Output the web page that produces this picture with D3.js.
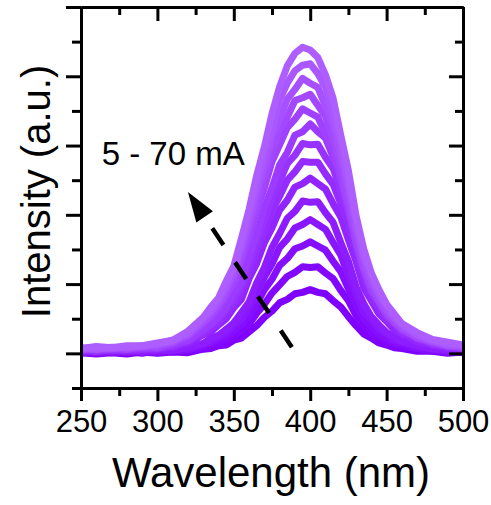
<!DOCTYPE html>
<html>
<head>
<meta charset="utf-8">
<script src="https://cdn.jsdelivr.net/npm/d3@7/dist/d3.min.js"></script>
<style>
  html, body { margin: 0; padding: 0; background: #fff; }
  svg { display: block; }
  text { font-family: "Liberation Sans", Arial, Helvetica, sans-serif; fill: #000; }
</style>
</head>
<body>
<svg id="chart" width="491" height="505"></svg>
<script>
// ---------------- data ----------------
const wavelengths = [250,260,270,280,290,300,310,320,330,335,340,345,350,355,360,365,370,375,380,385,390,395,400,405,410,415,420,425,430,435,440,445,450,455,460,470,480,490,500];
const currents = [5,10,15,20,25,30,35,40,45,50,55,60,65,70];

const spec05mA = [0.01,-0.01,0.01,-0.01,0.02,0.00,0.02,0.01,0.06,0.07,0.11,0.12,0.19,0.22,0.31,0.40,0.52,0.61,0.73,0.78,0.86,0.88,0.92,0.88,0.86,0.76,0.67,0.53,0.40,0.28,0.22,0.15,0.12,0.08,0.07,0.03,0.03,0.00,0.02];
const spec10mA = [0.00,0.03,0.01,0.03,0.00,0.04,0.02,0.05,0.08,0.12,0.15,0.20,0.25,0.34,0.42,0.58,0.71,0.87,0.99,1.11,1.17,1.25,1.24,1.25,1.16,1.08,0.91,0.76,0.55,0.41,0.30,0.24,0.16,0.14,0.09,0.07,0.03,0.04,0.01];
const spec15mA = [0.02,0.00,0.03,0.01,0.03,0.01,0.04,0.05,0.11,0.14,0.20,0.24,0.33,0.41,0.55,0.71,0.92,1.07,1.27,1.37,1.51,1.55,1.61,1.55,1.49,1.33,1.18,0.93,0.71,0.50,0.39,0.28,0.22,0.15,0.13,0.07,0.05,0.02,0.03];
const spec20mA = [0.03,0.01,0.04,0.02,0.04,0.03,0.06,0.06,0.14,0.17,0.24,0.29,0.40,0.49,0.66,0.86,1.10,1.29,1.53,1.65,1.81,1.86,1.93,1.86,1.79,1.60,1.42,1.12,0.86,0.60,0.48,0.34,0.28,0.19,0.17,0.09,0.07,0.04,0.05];
const spec25mA = [0.01,0.04,0.02,0.04,0.02,0.05,0.04,0.09,0.14,0.22,0.26,0.35,0.44,0.59,0.74,1.02,1.24,1.53,1.73,1.95,2.05,2.20,2.18,2.19,2.03,1.89,1.60,1.33,0.96,0.72,0.53,0.41,0.30,0.24,0.17,0.12,0.06,0.06,0.03];
const spec30mA = [0.04,0.02,0.05,0.03,0.06,0.05,0.10,0.14,0.27,0.31,0.41,0.50,0.66,0.78,1.08,1.30,1.60,1.81,2.07,2.21,2.40,2.45,2.53,2.45,2.37,2.16,1.97,1.64,1.33,0.95,0.76,0.57,0.46,0.34,0.28,0.16,0.12,0.07,0.07];
const spec35mA = [0.05,0.03,0.05,0.04,0.06,0.08,0.09,0.17,0.28,0.37,0.43,0.58,0.71,0.90,1.17,1.48,1.75,2.06,2.27,2.50,2.62,2.77,2.76,2.76,2.59,2.44,2.16,1.86,1.45,1.09,0.82,0.66,0.49,0.40,0.29,0.20,0.12,0.09,0.06];
const spec40mA = [0.04,0.06,0.05,0.07,0.06,0.09,0.11,0.19,0.31,0.41,0.48,0.64,0.78,0.99,1.28,1.62,1.91,2.25,2.48,2.74,2.86,3.03,3.01,3.02,2.83,2.67,2.35,2.04,1.58,1.20,0.89,0.73,0.54,0.44,0.32,0.23,0.13,0.11,0.07];
const spec45mA = [0.06,0.04,0.06,0.05,0.08,0.07,0.13,0.18,0.35,0.42,0.54,0.66,0.87,1.03,1.42,1.71,2.10,2.39,2.72,2.90,3.15,3.20,3.31,3.20,3.11,2.83,2.59,2.16,1.74,1.26,0.99,0.76,0.60,0.45,0.37,0.22,0.16,0.10,0.09];
const spec50mA = [0.05,0.07,0.06,0.08,0.08,0.11,0.14,0.25,0.41,0.53,0.64,0.83,1.01,1.33,1.66,2.06,2.39,2.77,3.01,3.26,3.38,3.53,3.47,3.41,3.17,2.94,2.52,2.11,1.59,1.21,0.92,0.74,0.56,0.45,0.34,0.23,0.15,0.12,0.08];
const spec55mA = [0.07,0.05,0.08,0.06,0.10,0.09,0.16,0.24,0.45,0.53,0.69,0.85,1.09,1.38,1.79,2.15,2.57,2.90,3.24,3.41,3.65,3.69,3.74,3.58,3.42,3.08,2.72,2.20,1.72,1.25,1.00,0.76,0.61,0.45,0.37,0.22,0.17,0.10,0.10];
const spec60mA = [0.06,0.09,0.07,0.10,0.09,0.14,0.16,0.29,0.46,0.60,0.72,0.93,1.14,1.50,1.87,2.32,2.69,3.12,3.38,3.67,3.81,3.97,3.90,3.84,3.57,3.31,2.84,2.38,1.79,1.36,1.04,0.83,0.63,0.51,0.38,0.27,0.17,0.14,0.10];
const spec65mA = [0.08,0.06,0.09,0.08,0.11,0.12,0.19,0.28,0.51,0.60,0.78,0.95,1.22,1.54,2.00,2.40,2.87,3.23,3.66,3.90,4.08,4.16,4.18,4.04,3.84,3.44,3.04,2.46,1.92,1.40,1.12,0.85,0.69,0.51,0.42,0.26,0.19,0.12,0.12];
const spec70mA = [0.07,0.10,0.08,0.11,0.11,0.15,0.19,0.32,0.52,0.67,0.80,1.04,1.26,1.66,2.08,2.57,2.98,3.46,3.85,4.15,4.33,4.42,4.38,4.27,4.02,3.68,3.15,2.64,1.99,1.51,1.16,0.92,0.71,0.57,0.43,0.30,0.20,0.16,0.12];

const spectra = [spec05mA,spec10mA,spec15mA,spec20mA,spec25mA,spec30mA,spec35mA,spec40mA,spec45mA,spec50mA,spec55mA,spec60mA,spec65mA,spec70mA];

const xMajorTicks = [250,300,350,400,450,500];
const xMinorTicks = [275,325,375,425,475];
const yMajorTicks = [0,1,2,3,4,5];
const yMinorTicks = [-0.5,0.5,1.5,2.5,3.5,4.5];

const xLabel = "Wavelength (nm)";
const yLabel = "Intensity (a.u.)";
const annotationText = "5 - 70 mA";
const arrowTail = [388, 0.09];
const arrowHead = [320, 2.33];
const annotationPos = [263.5, 2.72];

(function () {
const svg = d3.select("#chart");
const mLeft = 81, mRight = 463, mTop = 7, mBottom = 388;

const x = d3.scaleLinear().domain([250, 500]).range([mLeft, mRight]);
const y = d3.scaleLinear().domain([-0.5, 5]).range([mBottom, mTop]);

const color = i => d3.interpolateRgb("#7f00ff", "#ae5eff")(i / (spectra.length - 1));

const line = d3.line()
  .x((d, i) => x(wavelengths[i]))
  .y(d => y(d));

const gCurves = svg.append("g");
spectra.forEach((s, i) => {
  gCurves.append("path")
    .datum(s)
    .attr("d", line)
    .attr("fill", "none")
    .attr("stroke", color(i))
    .attr("stroke-width", 7)
    .attr("stroke-linejoin", "round")
    .attr("stroke-linecap", "butt");
});

const AX_W = 3;
function styleAxis(g) {
  g.select(".domain").attr("stroke", "#000").attr("stroke-width", AX_W);
  g.selectAll(".tick line").attr("stroke", "#000").attr("stroke-width", AX_W);
}

const gb = svg.append("g").attr("transform", `translate(0,${mBottom})`)
  .call(d3.axisBottom(x).tickValues(xMajorTicks).tickSize(13).tickSizeOuter(0).tickPadding(9).tickFormat(d3.format("d")));
styleAxis(gb);
gb.selectAll(".tick text").attr("font-size", 31).attr("font-family", "Liberation Sans, Arial, sans-serif").attr("fill", "#000");
const gbm = svg.append("g").attr("transform", `translate(0,${mBottom})`)
  .call(d3.axisBottom(x).tickValues(xMinorTicks).tickSize(8).tickSizeOuter(0).tickFormat(""));
styleAxis(gbm);

const gt = svg.append("g").attr("transform", `translate(0,${mTop})`)
  .call(d3.axisTop(x).tickValues(xMajorTicks).tickSize(-14).tickSizeOuter(0).tickFormat(""));
styleAxis(gt);
const gtm = svg.append("g").attr("transform", `translate(0,${mTop})`)
  .call(d3.axisTop(x).tickValues(xMinorTicks).tickSize(-8).tickSizeOuter(0).tickFormat(""));
styleAxis(gtm);

const gl = svg.append("g").attr("transform", `translate(${mLeft},0)`)
  .call(d3.axisLeft(y).tickValues(yMajorTicks).tickSize(15).tickSizeOuter(0).tickFormat(""));
styleAxis(gl);
const glm = svg.append("g").attr("transform", `translate(${mLeft},0)`)
  .call(d3.axisLeft(y).tickValues(yMinorTicks).tickSize(9).tickSizeOuter(0).tickFormat(""));
styleAxis(glm);

const gr = svg.append("g").attr("transform", `translate(${mRight},0)`)
  .call(d3.axisRight(y).tickValues(yMajorTicks).tickSize(-14).tickSizeOuter(0).tickFormat(""));
styleAxis(gr);
const grm = svg.append("g").attr("transform", `translate(${mRight},0)`)
  .call(d3.axisRight(y).tickValues(yMinorTicks).tickSize(-8).tickSizeOuter(0).tickFormat(""));
styleAxis(grm);

svg.append("text")
  .attr("x", (mLeft + mRight) / 2 - 1)
  .attr("y", 487)
  .attr("text-anchor", "middle")
  .attr("font-size", 42)
  .text(xLabel);

svg.append("text")
  .attr("transform", `translate(50,${(mTop + mBottom) / 2 - 6}) rotate(-90)`)
  .attr("text-anchor", "middle")
  .attr("font-size", 40)
  .text(yLabel);

svg.append("text")
  .attr("x", x(annotationPos[0]))
  .attr("y", y(annotationPos[1]))
  .attr("font-size", 33)
  .text(annotationText);

const tx = x(arrowTail[0]), ty = y(arrowTail[1]);
const hx = x(arrowHead[0]), hy = y(arrowHead[1]);
const ang = Math.atan2(hy - ty, hx - tx);
const headLen = 30, headHalf = 10;
const bx = hx - headLen * Math.cos(ang), by = hy - headLen * Math.sin(ang);
svg.append("line")
  .attr("x1", tx).attr("y1", ty).attr("x2", bx).attr("y2", by)
  .attr("stroke", "#000").attr("stroke-width", 4.5)
  .attr("stroke-dasharray", "20 21");
svg.append("path")
  .attr("d", `M${hx},${hy} L${bx + headHalf * Math.sin(ang)},${by - headHalf * Math.cos(ang)} L${bx - headHalf * Math.sin(ang)},${by + headHalf * Math.cos(ang)} Z`)
  .attr("fill", "#000");
})();
</script>
</body>
</html>
